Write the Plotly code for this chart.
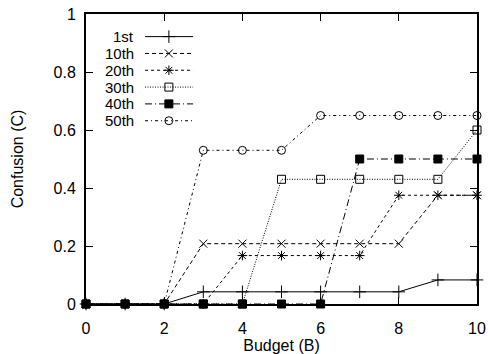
import plotly.graph_objects as go

# Budget values on the x axis
budget = [0, 1, 2, 3, 4, 5, 6, 7, 8, 9, 10]

# Confusion per percentile series
series_names = ["1st", "10th", "20th", "30th", "40th", "50th"]
c_1st = [0, 0, 0, 0.042, 0.042, 0.042, 0.042, 0.042, 0.042, 0.083, 0.083]
c_10th = [0, 0, 0, 0.208, 0.208, 0.208, 0.208, 0.208, 0.208, 0.375, 0.375]
c_20th = [0, 0, 0, 0, 0.167, 0.167, 0.167, 0.167, 0.375, 0.375, 0.375]
c_30th = [0, 0, 0, 0, 0, 0.43, 0.43, 0.43, 0.43, 0.43, 0.6]
c_40th = [0, 0, 0, 0, 0, 0, 0, 0.5, 0.5, 0.5, 0.5]
c_50th = [0, 0, 0, 0.53, 0.53, 0.53, 0.65, 0.65, 0.65, 0.65, 0.65]
all_values = [c_1st, c_10th, c_20th, c_30th, c_40th, c_50th]

x_ticks = [0, 2, 4, 6, 8, 10]
y_ticks = [0, 0.2, 0.4, 0.6, 0.8, 1]

# gnuplot-like line/point styles
dashes = ["solid", "4px,3px", "3px,3px", "1px,1.5px", "7px,3px,1px,3px", "3px,3px,1px,3px"]
symbols = ["cross-thin", "x-thin", "asterisk", "square-open", "square", "circle-open"]
sizes = [9, 8, 8, 8, 8, 8]

FONT = "Liberation Sans, Arial, Helvetica, sans-serif"

fig = go.Figure()

for name, vals, dash, sym, sz in zip(series_names, all_values, dashes, symbols, sizes):
    fig.add_trace(go.Scatter(
        x=budget, y=vals, name=name, mode="lines+markers",
        line=dict(color="black", width=1, dash=dash),
        marker=dict(symbol=sym, size=sz, color="black",
                    line=dict(color="black", width=1)),
        cliponaxis=False, showlegend=False,
    ))

# Key: right-aligned labels followed by a short line sample with its point
key_text_x = 0.125
key_line_x = [0.151, 0.212, 0.274]
key_rows = [0.922, 0.864, 0.806, 0.748, 0.690, 0.632]
for name, dash, sym, sz, ky in zip(series_names, dashes, symbols, sizes, key_rows):
    fig.add_annotation(
        x=key_text_x, y=ky, xref="paper", yref="paper",
        text=name, showarrow=False, xanchor="right", yanchor="middle",
        font=dict(family=FONT, size=15, color="black"),
        borderpad=0,
    )
    fig.add_trace(go.Scatter(
        x=key_line_x, y=[ky, ky, ky], xaxis="x2", yaxis="y2",
        mode="lines+markers",
        line=dict(color="black", width=1, dash=dash),
        marker=dict(symbol=sym, size=sz, color="black",
                    line=dict(color="black", width=1),
                    opacity=[0, 1, 0]),
        showlegend=False, hoverinfo="skip",
    ))

axis_common = dict(
    showline=True, linecolor="black", linewidth=2, mirror="ticks",
    ticks="inside", ticklen=7, tickwidth=1, tickcolor="black",
    showgrid=False, zeroline=False, automargin=False,
    tickfont=dict(family=FONT, size=16, color="black"),
)

fig.update_layout(
    width=488, height=354,
    margin=dict(l=86, r=11, t=14, b=50),
    paper_bgcolor="white", plot_bgcolor="white",
    font=dict(family=FONT, color="black"),
    xaxis=dict(range=[0, 10], tickvals=x_ticks, ticklabelstandoff=9,
               title=dict(text="Budget (B)", font=dict(family=FONT, size=16), standoff=10),
               **axis_common),
    yaxis=dict(range=[0, 1], tickvals=y_ticks, ticklabelstandoff=5,
               title=dict(text="Confusion (C)", font=dict(family=FONT, size=16), standoff=26),
               **axis_common),
    xaxis2=dict(overlaying="x", range=[0, 1], visible=False, anchor="y2"),
    yaxis2=dict(overlaying="y", range=[0, 1], visible=False, anchor="x2"),
)

fig.write_html("out.html")
